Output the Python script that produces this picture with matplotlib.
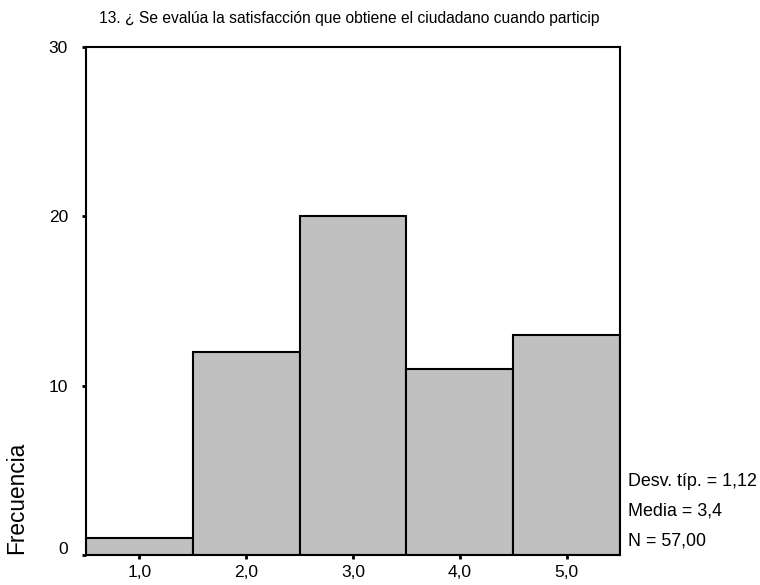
import matplotlib
matplotlib.use("Agg")
import matplotlib.pyplot as plt
import matplotlib.transforms as mtransforms

plt.rcParams['font.family'] = ['Liberation Sans', 'DejaVu Sans']

bin_centers = [1.0, 2.0, 3.0, 4.0, 5.0]
frequencies = [1, 12, 20, 11, 13]
x_tick_labels = ["1,0", "2,0", "3,0", "4,0", "5,0"]
y_ticks = [0, 10, 20, 30]
title = "13. ¿ Se evalúa la satisfacción que obtiene el ciudadano cuando particip"
stats_lines = ["Desv. típ. = 1,12", "Media = 3,4", "N = 57,00"]

W, H = 760, 585
fig = plt.figure(figsize=(W / 100, H / 100), dpi=100)
left, right, top, bottom = 86, 620, 47, 555
ax = fig.add_axes([left / W, 1 - bottom / H, (right - left) / W, (bottom - top) / H])

ax.bar(bin_centers, frequencies, width=1.0, color="#c0c0c0",
       edgecolor="black", linewidth=1.5, zorder=2)

ax.set_xlim(0.5, 5.5)
ax.set_ylim(0, 30)
ax.set_xticks(bin_centers)
ax.set_xticklabels(x_tick_labels, fontsize=12.5)
ax.set_yticks(y_ticks)
ax.set_yticklabels([str(v) for v in y_ticks], fontsize=12.5)
ax.tick_params(axis='both', direction='out', length=3, width=2, color='black')
ax.tick_params(axis='x', pad=4.5)
ax.tick_params(axis='y', pad=10)
for sp in ax.spines.values():
    sp.set_linewidth(1.5)
    sp.set_color('black')

# shift "0" label up slightly like SPSS
lbl0 = ax.get_yticklabels()[0]
lbl0.set_transform(lbl0.get_transform() + mtransforms.ScaledTranslation(0, 7 / 100, fig.dpi_scale_trans))

fig.text(349 / W, 1 - 18 / H, title, ha='center', va='center', fontsize=11.25)

fig.text(17 / W, 1 - 554 / H, "Frecuencia", rotation=90, ha='center', va='bottom', fontsize=16.3)

for line, y in zip(stats_lines, [481, 511, 541]):
    fig.text(628 / W, 1 - y / H, line, ha='left', va='center', fontsize=12.9)

fig.savefig("out.png", dpi=100)
